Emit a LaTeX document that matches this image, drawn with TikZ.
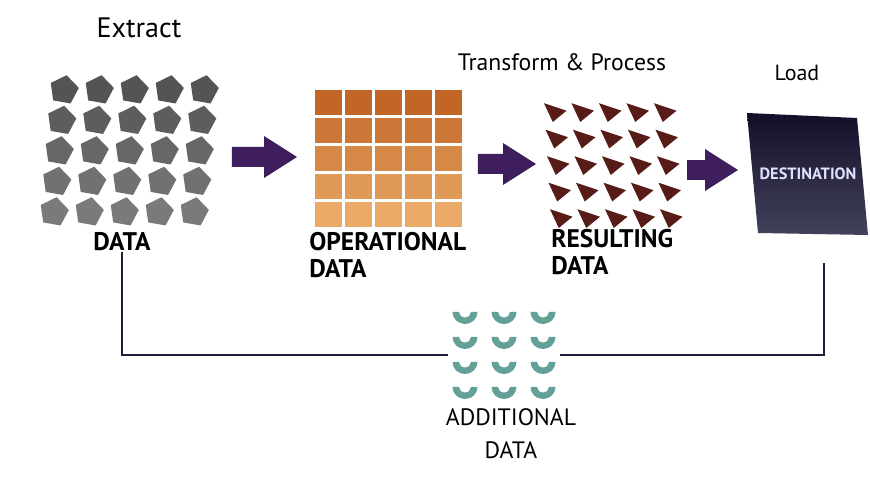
\documentclass[tikz,border=0pt]{standalone}
\usepackage{fontspec}
\setmainfont{PT Sans}
\usepackage{xcolor}
\usepackage{tikz}
\usetikzlibrary{shapes.geometric, arrows.meta, positioning, calc}

\definecolor{pentdark}{RGB}{84,84,84}
\definecolor{pentlight}{RGB}{122,122,122}
\definecolor{optop}{RGB}{194,102,38}
\definecolor{opbot}{RGB}{234,170,104}
\definecolor{trifill}{RGB}{88,28,24}
\definecolor{tealfill}{RGB}{98,160,152}
\definecolor{arrpurple}{RGB}{62,30,92}
\definecolor{desttop}{RGB}{20,15,40}
\definecolor{destbot}{RGB}{66,66,92}
\definecolor{linknavy}{RGB}{34,26,56}

\begin{document}
\begin{tikzpicture}[
  x=0.02cm, y=0.02cm,
  region/.style={inner sep=0pt, outer sep=0pt},
  pent/.style={regular polygon, regular polygon sides=5, rotate=-82,
               minimum size=0.6cm, inner sep=0pt},
  title/.style={font=\fontsize{16}{18}\selectfont, inner sep=0pt},
  lbl/.style={font=\bfseries\fontsize{14.5}{15.5}\selectfont, inner sep=0pt, align=left},
  bigarr/.style={arrpurple, line width=0.4cm,
                 -{Triangle[length=0.66cm, width=0.84cm, line width=0pt]}},
  link/.style={linknavy, line width=1.2pt},
]
\useasboundingbox (0,0) rectangle (870,477);
\fill[white] (0,0) rectangle (870,477);

% Titles
\node[title] (extract) at (139,449) {Extract};
\node[title, font=\fontsize{13.5}{15}\selectfont] (transform) at (562,415) {Transform \& Process};
\node[title, font=\fontsize{12.5}{14}\selectfont] (load) at (797,404) {Load};

% Data (pentagons)
\foreach \r [evaluate=\r as \pct using int(100-25*\r)] in {0,...,4}
  \foreach \c in {0,...,4}
    \node[pent, fill=pentdark!\pct!pentlight] (p-\r-\c)
      at ({64+35*\c-2.5*\r}, {387-30.5*\r}) {};
\node[region, minimum width=3.38cm, minimum height=2.92cm] (pgrid) at (131.5,326) {};
\node[lbl] (data) at (122,235) {DATA};

% Operational data (squares)
\foreach \r [evaluate=\r as \pct using int(100-25*\r)] in {0,...,4}
  \foreach \c in {0,...,4}
    \fill[optop!\pct!opbot] ({315+30*\c},{387-28*\r}) rectangle ++(27,-25);
\node[region, minimum width=2.96cm, minimum height=2.74cm] (ogrid) at (389,318.5) {};
\node[lbl, anchor=north west] (opdata) at (309,245) {OPERATIONAL\\DATA};

% Resulting data (triangles)
\foreach \r in {0,...,4}
  \foreach \c in {0,...,4}
    \fill[trifill, shift={({554+27.5*\c+1.5*\r},{365-26.5*\r})}, scale=1.25]
      (-8,7) -- (10,1) -- (-1,-8) -- cycle;
\node[region, minimum width=2.68cm, minimum height=2.42cm] (tgrid) at (613,311.5) {};
\node[lbl, anchor=north west] (resdata) at (551,248) {RESULTING\\DATA};

% Destination
\shade[top color=desttop, bottom color=destbot]
  (747,364) -- (857,359) -- (868,242) -- (758,244) -- cycle;
\node[region, minimum width=2.3cm, minimum height=2.4cm, text=white!88!blue,
      font=\bfseries\fontsize{9.3}{11}\selectfont] (dest) at (808,303) {DESTINATION};
\coordinate (dtail) at (824,214);

% Flow arrows
\draw[bigarr] ($(pgrid.east)+(16,-6)$) -- ($(ogrid.west)+(-18,1.5)$);
\draw[bigarr] ($(ogrid.east)+(15,-5.5)$) -- ($(tgrid.west)+(-10,1.5)$);
\draw[bigarr] ($(tgrid.east)+(7,-4.5)$) -- ($(dest.west)+(-12.5,4)$);

% Additional data (half rings)
\foreach \r in {0,...,3}
  \foreach \c in {0,...,2}
    \fill[tealfill, shift={({465+39*\c},{165-25*\r})}]
      (-12.5,0) arc[start angle=180, end angle=360, x radius=12.5, y radius=12]
      -- (6,0) arc[start angle=0, end angle=-180, x radius=6, y radius=5.5] -- cycle;
\node[region, minimum width=2.26cm, minimum height=1.8cm] (addl) at (504,122) {};
\node[title, align=center, font=\fontsize{13.5}{19}\selectfont, anchor=north]
  (addlabel) at (511,69) {ADDITIONAL\\DATA};

% Links to additional data
\draw[link] (data.south) |- (addl.west);
\draw[link] (addl.east) -| (dtail);
\end{tikzpicture}
\end{document}
